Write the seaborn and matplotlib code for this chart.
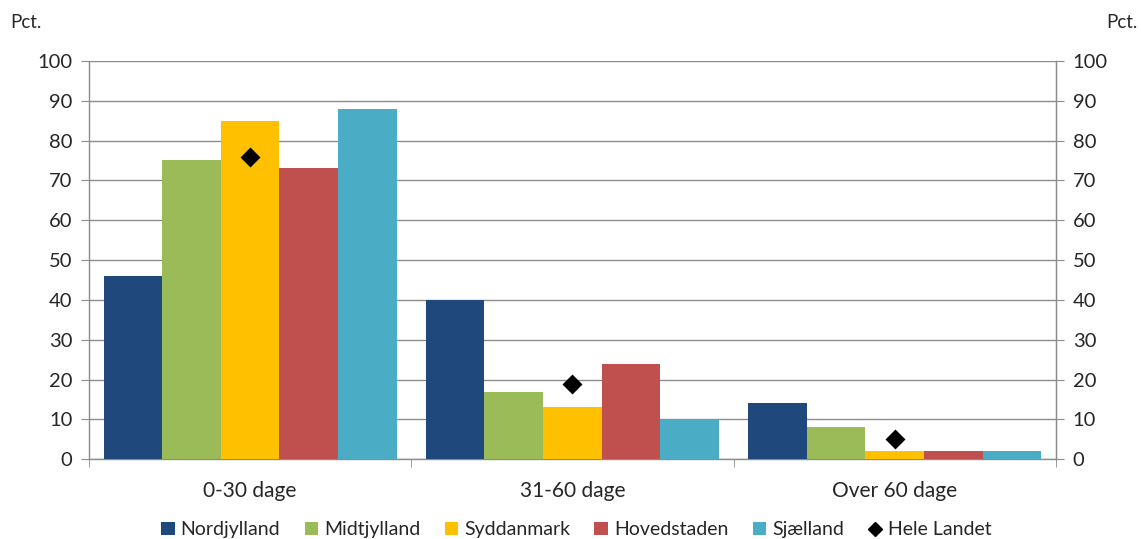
import pandas as pd
import matplotlib.pyplot as plt
import seaborn as sns
from matplotlib.patches import Patch
from matplotlib.lines import Line2D
from matplotlib.ticker import MultipleLocator, FixedLocator

# Data
categories = ["0-30 dage", "31-60 dage", "Over 60 dage"]
regions = ["Nordjylland", "Midtjylland", "Syddanmark", "Hovedstaden", "Sjælland"]
nordjylland = [46, 40, 14]
midtjylland = [75, 17, 8]
syddanmark = [85, 13, 2]
hovedstaden = [73, 24, 2]
sjaelland = [88, 10, 2]
hele_landet = [76, 19, 5]

colors = ["#1F497D", "#9BBB59", "#FFC000", "#C0504D", "#4BACC6"]

# long format
rows = []
for region, vals in zip(regions, [nordjylland, midtjylland, syddanmark, hovedstaden, sjaelland]):
    for cat, v in zip(categories, vals):
        rows.append({"kategori": cat, "region": region, "pct": v})
df = pd.DataFrame(rows)
df_total = pd.DataFrame({"kategori": categories, "pct": hele_landet})

sns.set_style("white")
plt.rcParams["font.family"] = ["Lato", "DejaVu Sans"]

fig = plt.figure(figsize=(11.41, 5.39), dpi=100)
ax = fig.add_axes([0.078, 0.148, 0.8475, 0.739])

grid_color = "#8C8C8C"
ax.set_axisbelow(True)
ax.grid(axis="y", color=grid_color, linewidth=1.0)

sns.barplot(data=df, x="kategori", y="pct", hue="region", order=categories,
            hue_order=regions, palette=colors, width=0.91, saturation=1,
            edgecolor="none", linewidth=0, legend=False, ax=ax)
for p in ax.patches:
    p.set_zorder(3)
sns.pointplot(data=df_total, x="kategori", y="pct", order=categories,
              color="black", marker="D", markersize=8, linestyle="none", ax=ax)
for c in ax.collections + ax.lines:
    c.set_zorder(5)

ax.set_xlim(-0.5, 2.5)
ax.set_ylim(0, 100)
ax.yaxis.set_major_locator(MultipleLocator(10))
ax.set_xlabel("")
ax.set_ylabel("")
for gl in ax.get_ygridlines():
    gl.set_zorder(0)

for side in ["left", "right", "bottom"]:
    ax.spines[side].set_visible(True)
    ax.spines[side].set_color(grid_color)
    ax.spines[side].set_linewidth(1.0)
ax.spines["top"].set_visible(False)

ax.tick_params(axis="y", which="major", direction="out", length=6, color=grid_color,
               labelsize=14.5, pad=6, left=True)
ax.tick_params(axis="x", which="major", length=0, labelsize=15, pad=16)
ax.xaxis.set_minor_locator(FixedLocator([-0.5, 0.5, 1.5, 2.5]))
ax.tick_params(axis="x", which="minor", direction="out", length=6, color=grid_color,
               bottom=True)

ax2 = ax.twinx()
ax2.set_ylim(0, 100)
ax2.yaxis.set_major_locator(MultipleLocator(10))
ax2.grid(False)
for side in ["left", "top", "bottom"]:
    ax2.spines[side].set_visible(False)
ax2.spines["right"].set_color(grid_color)
ax2.tick_params(axis="y", direction="out", length=6, color=grid_color, labelsize=14.5,
                pad=6, right=True)

fig.text(0.009, 0.958, "Pct.", fontsize=13.5, ha="left", va="center")
fig.text(0.997, 0.958, "Pct.", fontsize=13.5, ha="right", va="center")

handles = [Patch(facecolor=c, edgecolor="none", label=r) for c, r in zip(colors, regions)]
handles.append(Line2D([], [], color="black", marker="D", linestyle="none",
                      markersize=7, label="Hele Landet"))
fig.legend(handles=handles, loc="center", bbox_to_anchor=(0.505, 0.017), ncol=6,
           frameon=False, fontsize=14, handlelength=0.7, handleheight=0.7,
           handletextpad=0.3, columnspacing=1.25, borderaxespad=0)

fig.savefig("out.png", dpi=100)
